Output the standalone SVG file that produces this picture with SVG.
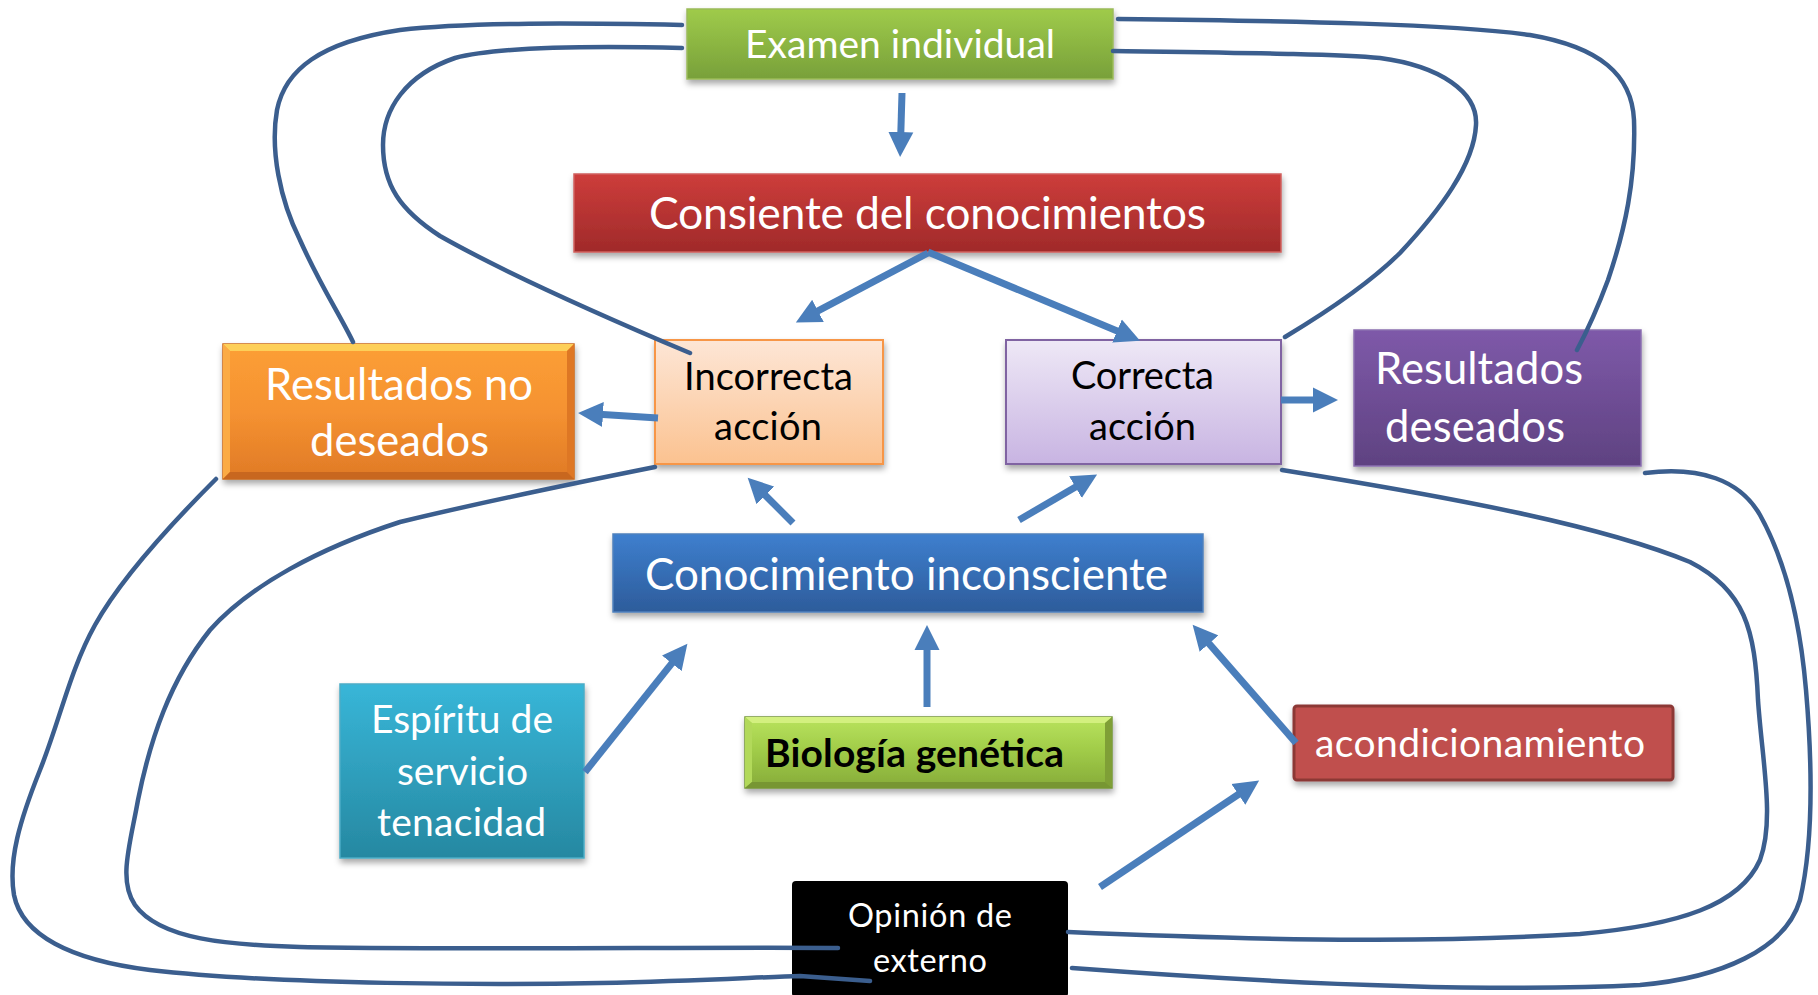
<svg xmlns="http://www.w3.org/2000/svg" width="1818" height="995" viewBox="0 0 1818 995">
<style>
.lbl{font-family:Lato,"Open Sans","Liberation Sans",sans-serif;text-anchor:middle}
.w{fill:#ffffff}
.k{fill:#000000}
.arr{stroke:#4a7ebb;stroke-width:7;fill:none;marker-end:url(#ah)}
.loop{stroke:#3b5e8e;stroke-width:4.5;fill:none;stroke-linecap:round;stroke-linejoin:round}
</style>
<defs>
<filter id="sh" x="-5%" y="-10%" width="112%" height="135%">
<feDropShadow dx="1" dy="4" stdDeviation="3" flood-color="#000" flood-opacity="0.35"/>
</filter>
<linearGradient id="gExam" x1="0" y1="0" x2="0" y2="1"><stop offset="0" stop-color="#9fcb4a"/><stop offset="1" stop-color="#78a03a"/></linearGradient>
<linearGradient id="gRed" x1="0" y1="0" x2="0" y2="1"><stop offset="0" stop-color="#cd3d3b"/><stop offset="1" stop-color="#a02a2a"/></linearGradient>
<linearGradient id="gPeach" x1="0" y1="0" x2="0" y2="1"><stop offset="0" stop-color="#fde6d6"/><stop offset="1" stop-color="#fbc290"/></linearGradient>
<linearGradient id="gLav" x1="0" y1="0" x2="0" y2="1"><stop offset="0" stop-color="#eee8f6"/><stop offset="1" stop-color="#c8b4e2"/></linearGradient>
<linearGradient id="gOrange" x1="0" y1="0" x2="0" y2="1"><stop offset="0" stop-color="#fc9f36"/><stop offset="0.5" stop-color="#f59231"/><stop offset="1" stop-color="#e07a26"/></linearGradient>
<linearGradient id="gPurple" x1="0" y1="0" x2="0" y2="1"><stop offset="0" stop-color="#7e59a9"/><stop offset="1" stop-color="#5f4281"/></linearGradient>
<linearGradient id="gBlue" x1="0" y1="0" x2="0" y2="1"><stop offset="0" stop-color="#3e7fce"/><stop offset="1" stop-color="#2d5c9b"/></linearGradient>
<linearGradient id="gTeal" x1="0" y1="0" x2="0" y2="1"><stop offset="0" stop-color="#38b6d8"/><stop offset="1" stop-color="#2688a1"/></linearGradient>
<linearGradient id="gLime" x1="0" y1="0" x2="0" y2="1"><stop offset="0" stop-color="#b9e35e"/><stop offset="0.5" stop-color="#9fca47"/><stop offset="1" stop-color="#86ab3a"/></linearGradient>
<marker id="ah" markerUnits="userSpaceOnUse" markerWidth="26" markerHeight="26" viewBox="0 -13 26 26" refX="8" refY="0" orient="auto">
<path d="M0,-12.5 L25,0 L0,12.5 z" fill="#4a7ebb"/>
</marker>
</defs>

<g id="node-examen">
<rect x="687" y="9" width="426" height="70" fill="url(#gExam)" stroke="#9bbb59" stroke-width="1.5" filter="url(#sh)"/>
<text class="lbl w" x="900" y="58" font-size="39" textLength="310">Examen individual</text>
</g>

<g id="node-consiente">
<rect x="574" y="174" width="707" height="78" fill="url(#gRed)" stroke="#d0605d" stroke-width="1.5" filter="url(#sh)"/>
<text class="lbl w" x="927.5" y="229" font-size="44.5" textLength="557">Consiente del conocimientos</text>
</g>

<g id="node-incorrecta">
<rect x="655" y="340" width="228" height="124" fill="url(#gPeach)" stroke="#f79646" stroke-width="2" filter="url(#sh)"/>
<text class="lbl k" x="768.5" y="390" font-size="38" textLength="169">Incorrecta</text>
<text class="lbl k" x="768" y="440" font-size="38" textLength="108">acción</text>
</g>

<g id="node-correcta">
<rect x="1006" y="340" width="275" height="124" fill="url(#gLav)" stroke="#8064a2" stroke-width="2" filter="url(#sh)"/>
<text class="lbl k" x="1142.5" y="389" font-size="38" textLength="143">Correcta</text>
<text class="lbl k" x="1142.5" y="440" font-size="38" textLength="107">acción</text>
</g>

<g id="node-no-deseados">
<rect x="223" y="344" width="351" height="135" fill="url(#gOrange)" stroke="#c96a1e" stroke-width="1.5" filter="url(#sh)"/>
<polygon points="223,344 574,344 567,351 230,351" fill="#fdcf58"/>
<polygon points="223,344 230,351 230,472 223,479" fill="#fbab45"/>
<polygon points="574,344 567,351 567,472 574,479" fill="#de7724"/>
<polygon points="223,479 574,479 567,472 230,472" fill="#c8671f"/>
<text class="lbl w" x="399" y="400" font-size="43.5" textLength="268">Resultados no</text>
<text class="lbl w" x="399.5" y="456" font-size="43.5" textLength="179">deseados</text>
</g>

<g id="node-deseados">
<rect x="1354" y="330" width="287" height="136" fill="url(#gPurple)" stroke="#8a6fb0" stroke-width="1.5" filter="url(#sh)"/>
<text class="lbl w" x="1479" y="384" font-size="43.5" textLength="208">Resultados</text>
<text class="lbl w" x="1475" y="442" font-size="43.5" textLength="180">deseados</text>
</g>

<g id="node-inconsciente">
<rect x="613" y="534" width="590" height="78" fill="url(#gBlue)" stroke="#4f81bd" stroke-width="1.5" filter="url(#sh)"/>
<text class="lbl w" x="906.5" y="590" font-size="44" textLength="523">Conocimiento inconsciente</text>
</g>

<g id="node-espiritu">
<rect x="340" y="684" width="244" height="174" fill="url(#gTeal)" stroke="#4bacc6" stroke-width="1.5" filter="url(#sh)"/>
<text class="lbl w" x="462" y="733" font-size="39" textLength="182">Espíritu de</text>
<text class="lbl w" x="462.5" y="785" font-size="39" textLength="131">servicio</text>
<text class="lbl w" x="461.5" y="836" font-size="39" textLength="169">tenacidad</text>
</g>

<g id="node-biologia">
<rect x="745" y="717" width="367" height="71" fill="url(#gLime)" stroke="#76963a" stroke-width="1.5" filter="url(#sh)"/>
<polygon points="745,717 1112,717 1105,723 752,723" fill="#d3f07f"/>
<polygon points="745,717 752,723 752,782 745,788" fill="#b2d95a"/>
<polygon points="1112,717 1105,723 1105,782 1112,788" fill="#7f9f36"/>
<polygon points="745,788 1112,788 1105,782 752,782" fill="#779633"/>
<text class="lbl k" x="914.5" y="767" font-size="39" font-weight="bold" textLength="299">Biología genética</text>
</g>

<g id="node-acondicionamiento">
<rect x="1294" y="706" width="379" height="74" rx="3" fill="#c0504d" stroke="#8c3836" stroke-width="3" filter="url(#sh)"/>
<text class="lbl w" x="1480" y="757" font-size="39" textLength="330">acondicionamiento</text>
</g>

<g id="node-opinion">
<rect x="792" y="881" width="276" height="116" rx="4" fill="#000000"/>
<text class="lbl w" x="930" y="927" font-size="32.5" textLength="164">Opinión de</text>
<text class="lbl w" x="930" y="972" font-size="32.5" textLength="114">externo</text>
</g>

<g id="connectors">
<path class="arr" d="M902,93 L900.6,140"/>
<path class="arr" d="M928,253 L810.9,314.6"/>
<path class="arr" d="M928,252 L1124.4,334.1"/>
<path class="arr" d="M658,418 L595,414.1"/>
<path class="arr" d="M1281,400 L1321,400"/>
<path class="arr" d="M793,523 L759.7,489.7"/>
<path class="arr" d="M1019,520 L1082.4,483.1"/>
<path class="arr" d="M585,772 L676.8,657.1"/>
<path class="arr" d="M927,707 L927,642"/>
<path class="arr" d="M1296,743 L1203.8,637.6"/>
<path class="arr" d="M1100,887 L1245,790"/>

<path class="loop" d="M682,25 C580,23 470,22 400,30 C320,42 285,70 277,110 C270,150 280,200 300,240 C320,285 340,315 353,342"/>
<path class="loop" d="M682,48 C600,46 500,46 455,58 C405,75 383,110 383,145 C383,185 400,210 440,236 C500,270 600,315 690,353"/>
<path class="loop" d="M1113,51 C1250,53 1340,54 1380,58 C1440,66 1478,92 1476,125 C1474,165 1440,210 1400,253 C1370,283 1330,310 1285,337"/>
<path class="loop" d="M1118,19 C1300,21 1450,24 1530,35 C1600,47 1632,75 1634,120 C1636,180 1625,230 1608,280 C1595,315 1585,335 1577,350"/>
<path class="loop" d="M216,479 C170,525 120,580 95,625 C70,670 60,720 40,770 C20,820 8,860 14,895 C22,935 70,960 150,970 C280,985 500,985 600,983 C700,981 760,977 800,976 L870,981"/>
<path class="loop" d="M655,467 C580,482 470,505 400,522 C320,548 250,585 210,630 C170,680 150,740 138,800 C130,845 118,880 135,905 C160,940 230,945 300,947 C450,950 700,947 838,948"/>
<path class="loop" d="M1282,470 C1450,497 1600,525 1690,562 C1745,590 1755,630 1758,700 C1762,760 1775,820 1760,860 C1740,905 1680,925 1580,934 C1450,942 1300,942 1068,932"/>
<path class="loop" d="M1645,473 C1700,466 1740,480 1760,515 C1785,560 1800,620 1806,690 C1812,760 1814,840 1800,900 C1785,950 1720,978 1640,985 C1500,992 1300,985 1072,968"/>
</g>
</svg>
